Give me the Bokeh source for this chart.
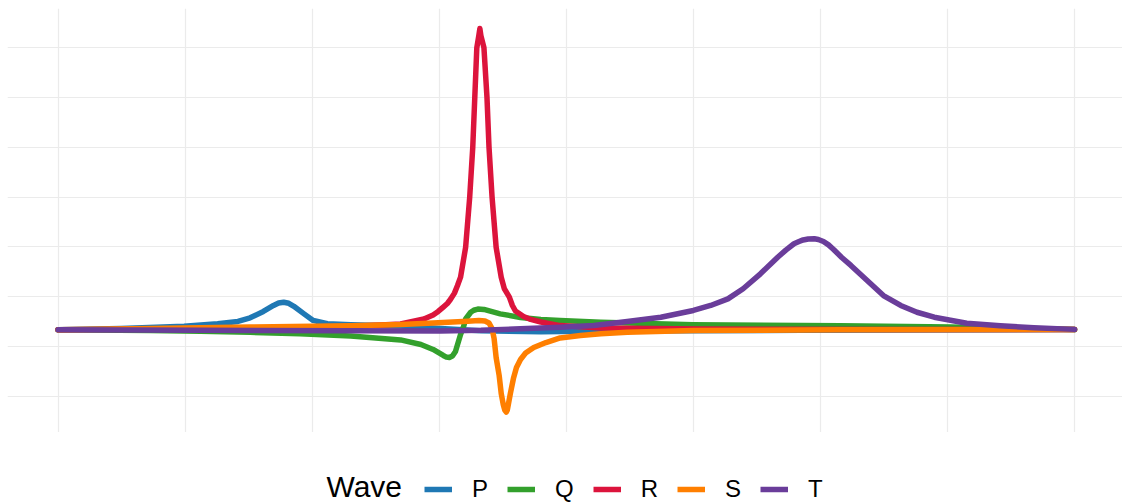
from bokeh.plotting import figure
from bokeh.models import Legend, LegendItem, FixedTicker, Range1d
from bokeh.layouts import column
from bokeh.core.properties import value
from bokeh.embed import file_html
from bokeh.resources import INLINE

# ---- data (time in s, amplitude in mV) ----
p_x = [0, 0.062, 0.124, 0.157, 0.177, 0.189, 0.202, 0.212, 0.217, 0.222, 0.227, 0.232, 0.242, 0.251,
       0.265, 0.288, 0.337, 0.376, 0.416, 0.475, 0.534, 0.731, 1.0]
p_y = [0.084, 0.091, 0.102, 0.114, 0.126, 0.144, 0.176, 0.206, 0.218, 0.222, 0.217, 0.202, 0.164, 0.131,
       0.114, 0.109, 0.103, 0.090, 0.079, 0.074, 0.078, 0.081, 0.085]

q_x = [0, 0.091, 0.140, 0.189, 0.238, 0.288, 0.337, 0.357, 0.369, 0.379, 0.382, 0.385, 0.388, 0.391,
       0.396, 0.399, 0.401, 0.406, 0.409, 0.413, 0.419, 0.435, 0.455, 0.475, 0.494, 0.534, 0.625, 0.770,
       0.878, 1.0]
q_y = [0.084, 0.080, 0.076, 0.071, 0.064, 0.053, 0.033, 0.010, -0.015, -0.045, -0.053, -0.055, -0.048,
       -0.025, 0.060, 0.100, 0.138, 0.172, 0.182, 0.188, 0.186, 0.164, 0.146, 0.136, 0.131, 0.122, 0.109,
       0.104, 0.098, 0.085]

r_x = [0, 0.091, 0.189, 0.288, 0.337, 0.360, 0.369, 0.374, 0.379, 0.383, 0.386, 0.390, 0.393, 0.396,
       0.401, 0.405, 0.408, 0.410, 0.412, 0.414, 0.415, 0.416, 0.419, 0.422, 0.424, 0.427, 0.431, 0.436,
       0.439, 0.444, 0.447, 0.450, 0.458, 0.465, 0.475, 0.494, 0.534, 0.632, 0.829, 1.0]
r_y = [0.084, 0.087, 0.092, 0.100, 0.113, 0.138, 0.158, 0.176, 0.198, 0.216, 0.236, 0.268, 0.306, 0.348,
       0.498, 0.750, 1.000, 1.250, 1.500, 1.561, 1.596, 1.561, 1.500, 1.250, 1.000, 0.750, 0.498, 0.348,
       0.291, 0.248, 0.206, 0.178, 0.151, 0.136, 0.123, 0.105, 0.093, 0.088, 0.085, 0.085]

s_x = [0, 0.091, 0.189, 0.288, 0.337, 0.369, 0.403, 0.414, 0.420, 0.424, 0.427, 0.429, 0.431, 0.434,
       0.436, 0.438, 0.4395, 0.441, 0.442, 0.443, 0.445, 0.448, 0.451, 0.455, 0.460, 0.468, 0.480, 0.494,
       0.514, 0.534, 0.560, 0.625, 0.770, 1.0]
s_y = [0.084, 0.091, 0.098, 0.104, 0.110, 0.118, 0.127, 0.131, 0.128, 0.118, 0.090, 0.040, -0.055, -0.146,
       -0.236, -0.291, -0.319, -0.329, -0.319, -0.291, -0.236, -0.161, -0.105, -0.065, -0.033, -0.005,
       0.020, 0.043, 0.055, 0.064, 0.072, 0.080, 0.084, 0.085]

t_x = [0, 0.140, 0.288, 0.376, 0.416, 0.455, 0.494, 0.527, 0.560, 0.593, 0.625, 0.642, 0.659, 0.674,
       0.691, 0.708, 0.716, 0.724, 0.729, 0.733, 0.738, 0.744, 0.748, 0.753, 0.758, 0.763, 0.771, 0.780,
       0.788, 0.796, 0.812, 0.829, 0.845, 0.862, 0.894, 0.927, 0.960, 1.0]
t_y = [0.084, 0.081, 0.079, 0.078, 0.081, 0.089, 0.097, 0.105, 0.126, 0.147, 0.181, 0.206, 0.239, 0.290,
       0.365, 0.448, 0.484, 0.516, 0.527, 0.535, 0.540, 0.541, 0.537, 0.527, 0.510, 0.487, 0.447, 0.407,
       0.369, 0.331, 0.256, 0.206, 0.172, 0.147, 0.117, 0.104, 0.094, 0.086]

wave_names = ["P", "Q", "R", "S", "T"]
wave_colors = ["#1f78b4", "#33a02c", "#dc143c", "#ff7f00", "#6a3d9a"]
legend_title = "Wave"
x_grid_ticks = [0, 0.125, 0.25, 0.375, 0.5, 0.625, 0.75, 0.875, 1.0]
y_grid_ticks = [-0.25, 0, 0.25, 0.5, 0.75, 1.0, 1.25, 1.5]

series = [(p_x, p_y), (q_x, q_y), (r_x, r_y), (s_x, s_y), (t_x, t_y)]

FONT = "Liberation Sans"
W = 1122
LINE_W = 5.5

# ---- main plot ----
p = figure(width=W, height=432, output_backend="svg", toolbar_location=None,
           x_range=Range1d(-0.0497, 1.0472), y_range=Range1d(-0.4317, 1.6968),
           title=None, min_border=0, min_border_left=7, min_border_top=8)
p.xaxis.visible = False
p.yaxis.visible = False
p.outline_line_color = None
p.background_fill_color = "white"
p.border_fill_color = "white"
p.xgrid.ticker = FixedTicker(ticks=x_grid_ticks)
p.ygrid.ticker = FixedTicker(ticks=y_grid_ticks)
for g in (p.xgrid, p.ygrid):
    g.grid_line_color = "#ebebeb"
    g.grid_line_width = 1.2

for color, (xs, ys) in zip(wave_colors, series):
    p.line(xs, ys, line_color=color, line_width=LINE_W, line_cap="round", line_join="round")

# ---- legend strip (1 unit = 1 px) ----
H2 = 72
leg = figure(width=W, height=H2, output_backend="svg", toolbar_location=None,
             x_range=Range1d(0, W), y_range=Range1d(0, H2),
             title=None, min_border=0)
leg.xaxis.visible = False
leg.yaxis.visible = False
leg.xgrid.visible = False
leg.ygrid.visible = False
leg.outline_line_color = None
leg.border_fill_color = "white"
leg.background_fill_color = "white"

nan = float("nan")
items = []
for name, color in zip(wave_names, wave_colors):
    r = leg.line([nan], [nan], line_color=color, line_width=LINE_W)
    items.append(LegendItem(label=name, renderers=[r]))

leg.text(x=[397], y=[18], text=[legend_title], text_font=value(FONT), text_font_size="30px",
         text_align="right", text_baseline="middle", text_color="black")

legend = Legend(items=items, orientation="horizontal", location=(417, 1),
                label_text_font_size="24px", label_text_font=FONT, label_text_color="black",
                glyph_width=28, glyph_height=26, label_height=26, label_width=0,
                label_standoff=20, spacing=19, padding=0, margin=0,
                border_line_color=None, background_fill_alpha=0)
leg.add_layout(legend, "center")

layout = column(p, leg, spacing=0)
open("out.html", "w").write(file_html(layout, INLINE))
